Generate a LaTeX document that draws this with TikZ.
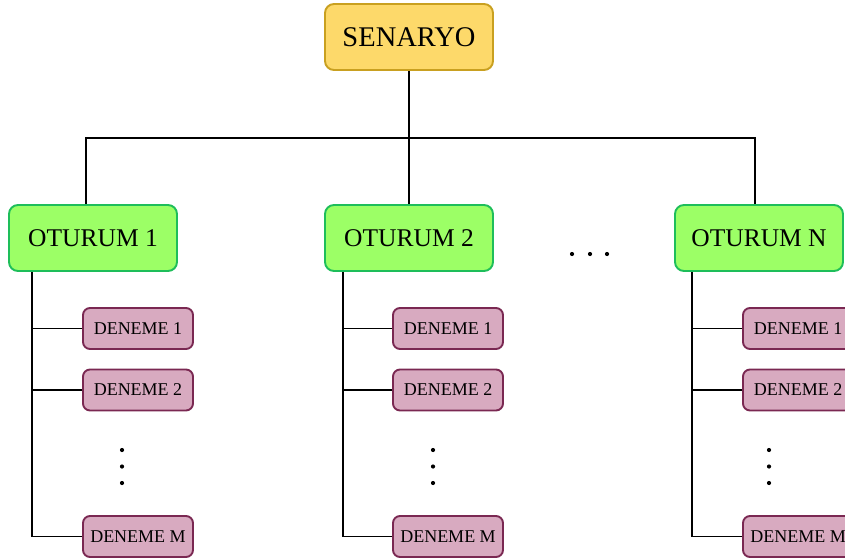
\documentclass[tikz,border=0pt]{standalone}
\usepackage{fontspec}
\setmainfont{Liberation Serif}
\definecolor{senfill}{RGB}{253,217,106}
\definecolor{senline}{RGB}{201,160,32}
\definecolor{otfill}{RGB}{156,255,102}
\definecolor{otline}{RGB}{30,190,90}
\definecolor{defill}{RGB}{216,170,192}
\definecolor{deline}{RGB}{122,40,82}
\tikzset{
  rootbox/.style={draw=senline, fill=senfill, line width=1.9pt, rounded corners=9pt,
    minimum width=168pt, minimum height=66pt, inner sep=0pt,
    font=\fontsize{28.5}{30}\selectfont},
  sessionbox/.style={draw=otline, fill=otfill, line width=1.9pt, rounded corners=9pt,
    minimum width=168pt, minimum height=66pt, inner sep=0pt,
    font=\fontsize{25.5}{27}\selectfont},
  trialbox/.style={draw=deline, fill=defill, line width=1.9pt, rounded corners=7pt,
    minimum width=110pt, minimum height=41pt, inner sep=0pt,
    font=\fontsize{18}{20}\selectfont},
  conn/.style={draw=black, line width=1.9pt},
  dotmark/.style={circle, fill=black, inner sep=0pt, minimum size=4.2pt}
}
\begin{document}
\begin{tikzpicture}[x=1pt, y=-1pt]
  \useasboundingbox (0,0) rectangle (845,559);

  % root and sessions
  \node[rootbox] (sen) at (409,37) {SENARYO};
  \node[sessionbox] (o1) at (93,238) {OTURUM 1};
  \node[sessionbox] (o2) at (409,238) {OTURUM 2};
  \node[sessionbox] (oN) at (759,238) {OTURUM N};

  % junction points of the top bus and the side rails
  \coordinate (j1) at (86,138);
  \coordinate (jN) at (755,138);
  \coordinate (r1) at (32,0);
  \coordinate (r2) at (343,0);
  \coordinate (rN) at (692,0);

  % trials per session
  \foreach \c/\x in {1/138, 2/448, N/798}{
    \node[trialbox] (d\c-1) at (\x,328.5) {DENEME 1};
    \node[trialbox] (d\c-2) at (\x,390) {DENEME 2};
    \node[trialbox] (d\c-M) at (\x,536.5) {DENEME M};
  }

  % tree connectors
  \draw[conn] (sen.south) -- (o2.north);
  \draw[conn] (o1.north -| j1) -- (j1) -- (jN) -- (oN.north -| jN);
  \foreach \c in {1,2,N}{
    \draw[conn] (o\c.south -| r\c) |- (d\c-M.west);
    \draw[conn] (d\c-1.west) -- (d\c-1.west -| r\c);
    \draw[conn] (d\c-2.west) -- (d\c-2.west -| r\c);
  }

  % ellipses
  \foreach \c/\x in {1/122, 2/433, N/769}{
    \node[dotmark] (v\c a) at (\x,450) {};
    \node[dotmark] (v\c b) at (\x,466.5) {};
    \node[dotmark] (v\c c) at (\x,483) {};
  }
  \node[dotmark] (ha) at (572,254) {};
  \node[dotmark] (hb) at (590,254) {};
  \node[dotmark] (hc) at (607,254) {};
\end{tikzpicture}
\end{document}
